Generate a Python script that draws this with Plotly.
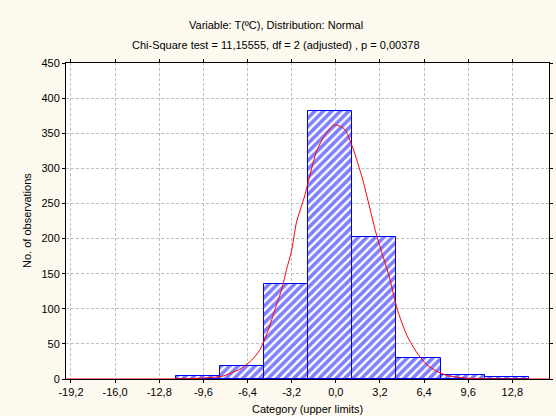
import plotly.graph_objects as go

# Histogram data (bin centres and counts)
bin_centers = [-10.0, -6.8, -3.6, -0.4, 2.8, 6.0, 9.2, 12.4]
counts = [4, 18, 135, 382, 202, 30, 6, 3]
bin_width = 3.2

# Fitted normal curve
curve_x = [-19.56, -15.0, -12.0, -10.5, -9.5, -8.25, -7.05, -6.09, -5.49, -4.89, -4.41,
           -3.93, -3.57, -3.21, -2.85, -2.25, -1.89, -1.42, -0.81, -0.09, 0.63, 1.22,
           1.94, 2.90, 3.26, 3.86, 4.46, 5.18, 5.90, 6.62, 7.33, 8.05, 9.0, 10.0,
           11.5, 15.46]
curve_y = [0, 0, 0.1, 0.6, 1.5, 4, 13, 27, 42, 70, 99,
           127, 156, 182, 223, 261, 289, 323, 347, 362, 356, 330,
           285, 209, 185, 147, 99, 61, 37, 20, 11, 5, 2, 0.7,
           0.1, 0]

tick_vals = [-19.2, -16.0, -12.8, -9.6, -6.4, -3.2, 0.0, 3.2, 6.4, 9.6, 12.8]
tick_text = ["-19,2", "-16,0", "-12,8", "-9,6", "-6,4", "-3,2", "0,0", "3,2", "6,4", "9,6", "12,8"]

title_line1 = "Variable: T(ºC), Distribution: Normal"
title_line2 = "Chi-Square test = 11,15555, df = 2 (adjusted) , p = 0,00378"
x_title = "Category (upper limits)"
y_title = "No. of observations"

FONT = "Liberation Sans, Arial, sans-serif"

fig = go.Figure()
fig.add_trace(go.Bar(
    x=bin_centers, y=counts, width=bin_width,
    marker=dict(color="white",
                line=dict(color="#0000ff", width=1),
                pattern=dict(shape="/", fgcolor="#0000ff", bgcolor="white",
                             size=6, solidity=0.6)),
    showlegend=False, hoverinfo="x+y",
))
fig.add_trace(go.Scatter(
    x=curve_x, y=curve_y, mode="lines",
    line=dict(color="#ff0000", width=1, shape="spline", smoothing=0.6),
    showlegend=False,
))

fig.update_layout(
    width=556, height=416,
    margin=dict(l=66, r=3, t=63, b=37),
    paper_bgcolor="#fdf9ef",
    plot_bgcolor="white",
    font=dict(family=FONT, size=11, color="black"),
    bargap=0,
    annotations=[
        dict(text=title_line1, xref="paper", yref="paper", x=0.435, y=1.0, yshift=38,
             xanchor="center", yanchor="middle", showarrow=False, font=dict(size=11)),
        dict(text=title_line2, xref="paper", yref="paper", x=0.435, y=1.0, yshift=18,
             xanchor="center", yanchor="middle", showarrow=False, font=dict(size=11)),
        dict(text=x_title, xref="paper", yref="paper", x=0.5, y=0, yshift=-30,
             xanchor="center", yanchor="middle", showarrow=False, font=dict(size=11)),
        dict(text=y_title, xref="paper", yref="paper", x=0, y=0.5, xshift=-39,
             textangle=-90, xanchor="center", yanchor="middle", showarrow=False,
             font=dict(size=11)),
    ],
)
fig.update_xaxes(
    range=[-19.56, 15.46], tickvals=tick_vals, ticktext=tick_text,
    showgrid=True, gridcolor="#c0c0c0", griddash="3px,2px", gridwidth=1,
    showline=True, linecolor="black", linewidth=1, mirror="ticks",
    ticks="outside", ticklen=3, tickcolor="black", zeroline=False,
)
fig.update_yaxes(
    range=[0, 450], dtick=50,
    showgrid=True, gridcolor="#c0c0c0", griddash="3px,2px", gridwidth=1,
    showline=True, linecolor="black", linewidth=1, mirror="ticks",
    ticks="outside", ticklen=3, tickcolor="black", zeroline=False,
)

fig.write_html(
    "out.html",
    config={"displayModeBar": False},
    post_script="document.body.style.margin='0';document.body.style.padding='0';"
                "document.body.style.overflow='hidden';",
)
